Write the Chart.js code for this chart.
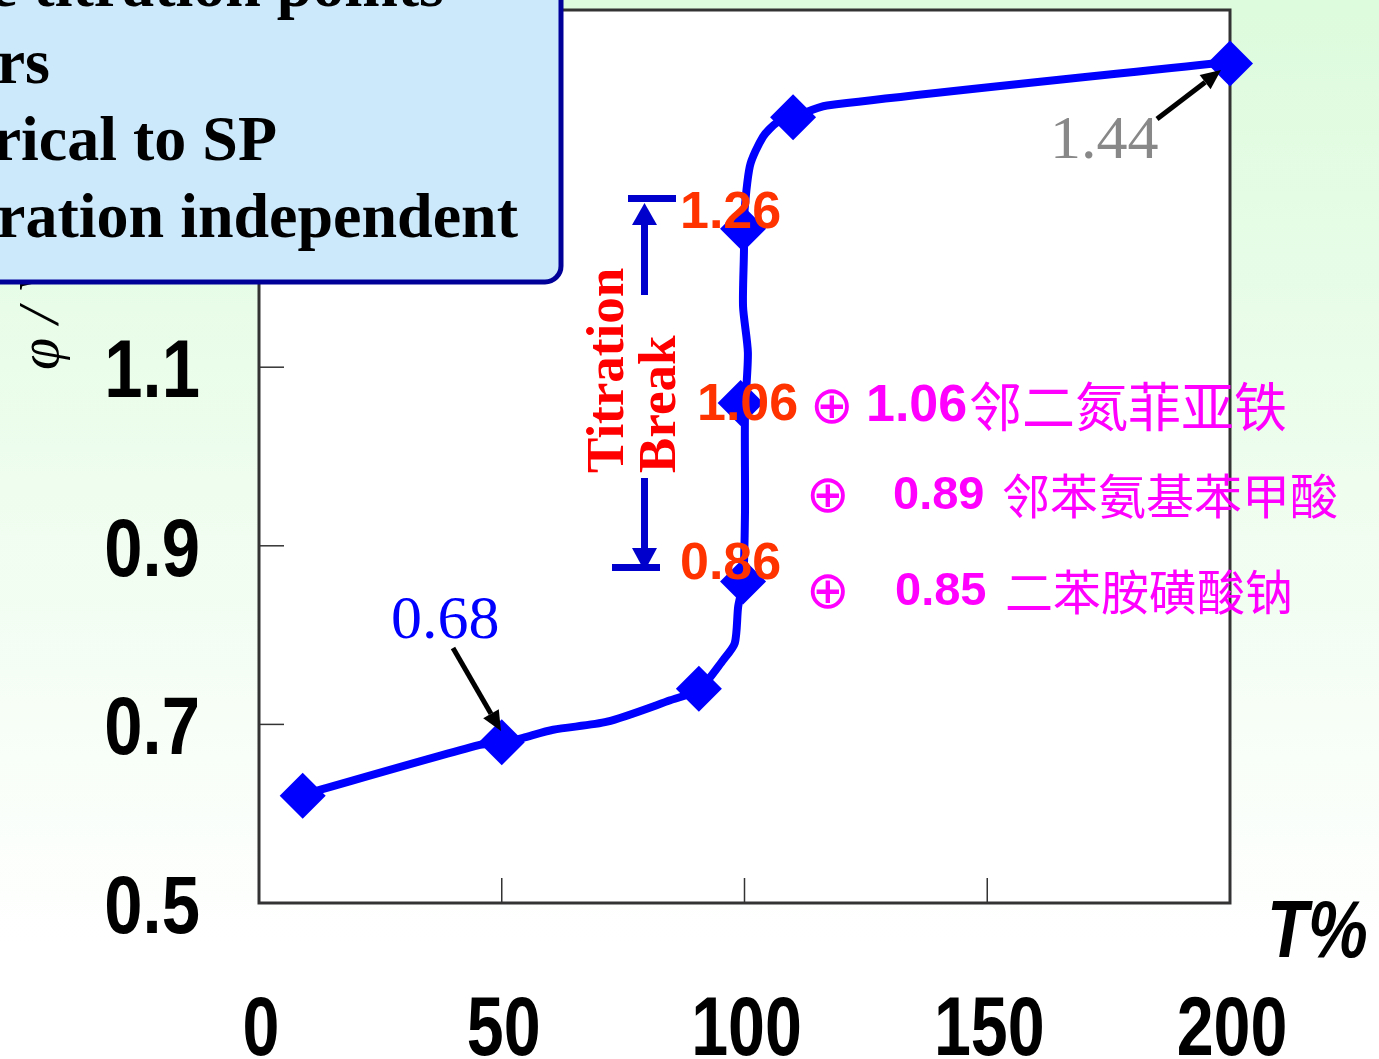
<!DOCTYPE html>
<html>
<head>
<meta charset="utf-8">
<script src="https://cdn.jsdelivr.net/npm/chart.js@4.4.0/dist/chart.umd.min.js"></script>
<style>
    html, body { margin: 0; padding: 0; background: #fff; }
    #wrap { width: 1379px; height: 1059px; }
</style>
</head>
<body>
<div id="wrap"><canvas id="chart" width="1379" height="1059"></canvas></div>
<script>
// titration curve (T% , potential / V)
const curveT = [8.9, 45.5, 50.0, 54.4, 60.6, 71.7, 84.7, 90.6, 95.6, 98.0, 98.7, 99.7,
    100.1, 100.1, 100.7, 99.7, 99.9, 99.7, 101.1, 103.8, 106.7, 110.0, 117.0, 200];
const curvePhi = [0.621, 0.677, 0.679, 0.685, 0.694, 0.703, 0.727, 0.739, 0.772, 0.791, 0.832, 0.859,
    0.937, 1.049, 1.116, 1.168, 1.235, 1.254, 1.325, 1.358, 1.374, 1.380, 1.393, 1.442];

// diamond markers
const markerT = [9, 50, 90.6, 99.7, 99.2, 99.7, 110, 200];
const markerPhi = [0.62, 0.68, 0.74, 0.86, 1.06, 1.255, 1.38, 1.44];

const xTicks = [0, 50, 100, 150, 200];
const yTicks = [0.5, 0.7, 0.9, 1.1, 1.3, 1.5];

const breakLabels = ["1.26", "1.06", "0.86"];
const indicatorPhi = ["1.06", "0.89", "0.85"];
const indicatorNames = ["邻二氮菲亚铁", "邻苯氨基苯甲酸", "二苯胺磺酸钠"];
const boxLines = ["e titration points", "rs", "rical to SP", "ration independent"];

const SANS = "'Liberation Sans', Arial, sans-serif";
const SERIF = "'Liberation Serif', 'Times New Roman', serif";
const CJK = "'Noto Sans CJK SC', sans-serif";

function arrow(ctx, x1, y1, x2, y2, color, width, head, headW) {
    const a = Math.atan2(y2 - y1, x2 - x1);
    const bx = x2 - Math.cos(a) * head, by = y2 - Math.sin(a) * head;
    ctx.save();
    ctx.strokeStyle = color;
    ctx.fillStyle = color;
    ctx.lineWidth = width;
    ctx.beginPath();
    ctx.moveTo(x1, y1);
    ctx.lineTo(bx, by);
    ctx.stroke();
    ctx.beginPath();
    ctx.moveTo(x2, y2);
    ctx.lineTo(bx + Math.sin(a) * headW / 2, by - Math.cos(a) * headW / 2);
    ctx.lineTo(bx - Math.sin(a) * headW / 2, by + Math.cos(a) * headW / 2);
    ctx.closePath();
    ctx.fill();
    ctx.restore();
}

// condensed text: squeeze horizontally around an anchor
function squeezed(ctx, text, x, y, sx, align) {
    ctx.save();
    ctx.translate(x, y);
    ctx.scale(sx, 1);
    ctx.textAlign = align;
    ctx.fillText(text, 0, 0);
    ctx.restore();
}

const backdrop = {
    id: "backdrop",
    beforeDraw(chart) {
        const { ctx, chartArea: a } = chart;
        const g = ctx.createLinearGradient(0, 0, 0, chart.height);
        g.addColorStop(0, "#ddfbdd");
        g.addColorStop(0.9, "#ffffff");
        ctx.save();
        ctx.fillStyle = g;
        ctx.fillRect(0, 0, chart.width, chart.height);
        ctx.fillStyle = "#ffffff";
        ctx.fillRect(a.left, a.top, a.right - a.left, a.bottom - a.top);
        ctx.restore();
    },
    beforeDatasetsDraw(chart) {
        const { ctx, chartArea: a, scales } = chart;
        ctx.save();
        ctx.strokeStyle = "#333";
        ctx.lineWidth = 1.5;
        ctx.fillStyle = "#000";
        ctx.textBaseline = "alphabetic";
        // inward tick marks + labels
        ctx.font = "bold 84px " + SANS;
        scales.x.ticks.forEach((t) => {
            const p = scales.x.getPixelForValue(t.value);
            ctx.beginPath();
            ctx.moveTo(p, a.bottom);
            ctx.lineTo(p, a.bottom - 25);
            ctx.stroke();
            squeezed(ctx, String(t.value), p + 2, a.bottom + 152, 0.79, "center");
        });
        ctx.font = "bold 81px " + SANS;
        scales.y.ticks.forEach((t) => {
            const p = scales.y.getPixelForValue(t.value);
            ctx.beginPath();
            ctx.moveTo(a.left, p);
            ctx.lineTo(a.left + 25, p);
            ctx.stroke();
            squeezed(ctx, t.value.toFixed(1), a.left - 59, p + 30, 0.85, "right");
        });
        ctx.lineWidth = 3;
        ctx.strokeRect(a.left, a.top, a.right - a.left, a.bottom - a.top);
        ctx.restore();
    },
    afterDraw(chart) {
        const ctx = chart.ctx;
        ctx.save();

        // y axis title, mostly hidden under the note box
        ctx.save();
        ctx.translate(58, 370);
        ctx.rotate(-Math.PI / 2);
        ctx.fillStyle = "#000";
        ctx.font = "italic 58px " + SERIF;
        ctx.textAlign = "left";
        ctx.textBaseline = "alphabetic";
        ctx.fillText("φ / V", 0, 0);
        ctx.restore();

        // note box
        ctx.beginPath();
        ctx.roundRect(-30, -30, 591, 312, 16);
        ctx.fillStyle = "#cce9fc";
        ctx.fill();
        ctx.lineWidth = 5;
        ctx.strokeStyle = "#000099";
        ctx.stroke();
        ctx.fillStyle = "#000";
        ctx.font = "bold 64px " + SERIF;
        ctx.textAlign = "right";
        ctx.textBaseline = "alphabetic";
        const ends = [444, 50, 277, 518];
        boxLines.forEach((s, i) => ctx.fillText(s, ends[i], 6 + i * 77));

        // value callouts
        ctx.font = "62px " + SERIF;
        ctx.textAlign = "left";
        ctx.fillStyle = "#0000ff";
        ctx.fillText("0.68", 391, 638);
        ctx.fillStyle = "#888888";
        ctx.fillText("1.44", 1050, 158);
        arrow(ctx, 453, 648, 501, 731, "#000", 5, 20, 18);
        arrow(ctx, 1157, 119, 1221, 70, "#000", 5, 20, 18);

        // titration break bracket
        ctx.fillStyle = "#0000cc";
        ctx.fillRect(628, 195, 48, 7);
        ctx.fillRect(641, 222, 7, 73);
        ctx.fillRect(612, 564, 48, 7);
        ctx.fillRect(641, 478, 7, 72);
        ctx.beginPath();
        ctx.moveTo(644.5, 203); ctx.lineTo(632, 225); ctx.lineTo(657, 225); ctx.closePath(); ctx.fill();
        ctx.beginPath();
        ctx.moveTo(644.5, 571); ctx.lineTo(632, 548); ctx.lineTo(657, 548); ctx.closePath(); ctx.fill();

        ctx.fillStyle = "#ff0000";
        ctx.font = "bold 53px " + SERIF;
        ctx.textAlign = "left";
        ctx.textBaseline = "alphabetic";
        ctx.save();
        ctx.translate(623, 473); ctx.rotate(-Math.PI / 2); ctx.fillText("Titration", 0, 0);
        ctx.restore();
        ctx.save();
        ctx.translate(675, 473); ctx.rotate(-Math.PI / 2); ctx.fillText("Break", 0, 0);
        ctx.restore();

        // break values
        ctx.fillStyle = "#ff3300";
        ctx.font = "bold 52px " + SANS;
        ctx.textBaseline = "middle";
        const bx = [680, 697, 680], byy = [214, 406, 565];
        breakLabels.forEach((s, i) => ctx.fillText(s, bx[i], byy[i]));

        // indicators
        ctx.fillStyle = "#ff00ff";
        const rowY = [407, 496, 592];
        const plusX = [810, 806, 806];
        const numX = [866, 893, 895];
        const nameX = [969, 1002, 1005];
        const numSize = [52, 47, 47];
        const nameSize = [53, 48, 48];
        indicatorPhi.forEach((v, i) => {
            ctx.font = "52px 'DejaVu Sans', sans-serif";
            ctx.fillText("⊕", plusX[i], rowY[i] + 2);
            ctx.font = "bold " + numSize[i] + "px " + SANS;
            ctx.fillText(v, numX[i], rowY[i]);
            ctx.font = nameSize[i] + "px " + CJK;
            ctx.fillText(indicatorNames[i], nameX[i], rowY[i]);
        });

        // x axis title
        ctx.fillStyle = "#000";
        ctx.font = "italic bold 82px " + SANS;
        ctx.textBaseline = "alphabetic";
        squeezed(ctx, "T%", 1267, 957, 0.82, "left");

        ctx.restore();
    },
};

const curve = curveT.map((t, i) => ({ x: t, y: curvePhi[i] }));
const markers = markerT.map((t, i) => ({ x: t, y: markerPhi[i] }));

new Chart(document.getElementById("chart"), {
    type: "line",
    data: {
        datasets: [
            {
                data: curve,
                borderColor: "#0000ff",
                borderWidth: 8,
                pointRadius: 0,
                tension: 0.25,
                clip: false,
            },
            {
                data: markers,
                showLine: false,
                pointStyle: "rectRot",
                pointRadius: 23,
                pointBackgroundColor: "#0000ff",
                pointBorderWidth: 0,
                clip: false,
            },
        ],
    },
    options: {
        responsive: false,
        devicePixelRatio: 1,
        animation: false,
        layout: { autoPadding: false, padding: { top: 10, right: 149, left: 0, bottom: 0 } },
        plugins: { legend: { display: false }, tooltip: { enabled: false } },
        scales: {
            x: {
                type: "linear",
                min: 0,
                max: 200,
                afterBuildTicks: (s) => { s.ticks = xTicks.map((v) => ({ value: v })); },
                afterFit: (s) => { s.height = 156; s.paddingLeft = 0; s.paddingRight = 0; },
                grid: { display: false, drawTicks: false },
                border: { display: false },
                ticks: { display: false },
            },
            y: {
                type: "linear",
                min: 0.5,
                max: 1.5,
                afterBuildTicks: (s) => { s.ticks = yTicks.map((v) => ({ value: v })); },
                afterFit: (s) => { s.width = 259; s.paddingTop = 0; s.paddingBottom = 0; },
                grid: { display: false, drawTicks: false },
                border: { display: false },
                ticks: { display: false },
            },
        },
    },
    plugins: [backdrop],
});
</script>
</body>
</html>
